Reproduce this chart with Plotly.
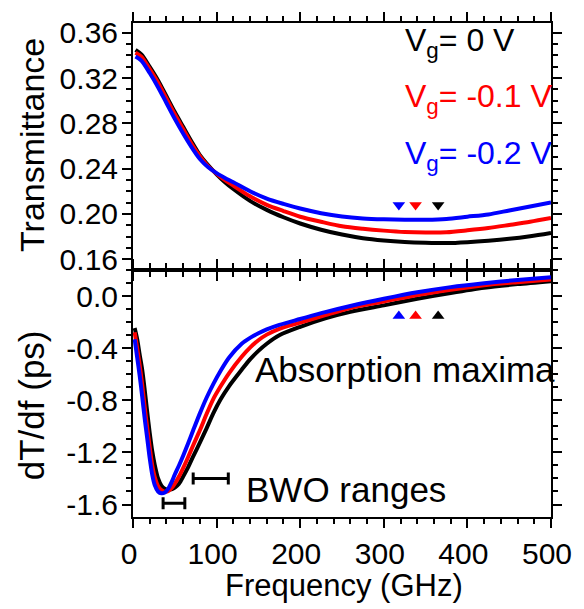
import plotly.graph_objects as go
from plotly.subplots import make_subplots

# ---------------- data ----------------
# Top panel: transmittance vs frequency (GHz)
freq_T = [3, 10, 20, 30, 40, 50, 60, 70, 80, 90, 100, 110, 120, 140, 160, 180, 200,
          225, 250, 275, 300, 325, 350, 375, 400, 425, 450, 475, 500]
T_0V = [0.345, 0.341, 0.330, 0.318, 0.304, 0.290, 0.277, 0.264, 0.252, 0.243, 0.235,
        0.228, 0.222, 0.2115, 0.2035, 0.197, 0.1915, 0.186, 0.1817, 0.1785, 0.1765,
        0.1752, 0.1745, 0.1742, 0.1750, 0.1763, 0.1780, 0.1803, 0.1832]
T_01V = [0.3425, 0.339, 0.328, 0.316, 0.302, 0.288, 0.275, 0.262, 0.251, 0.242, 0.2355,
         0.2298, 0.2250, 0.2155, 0.208, 0.2025, 0.1975, 0.1930, 0.1890, 0.1868, 0.1852,
         0.1840, 0.1836, 0.1838, 0.1855, 0.1875, 0.1902, 0.1930, 0.1963]
T_02V = [0.339, 0.3355, 0.3245, 0.312, 0.298, 0.284, 0.271, 0.259, 0.2485, 0.2412, 0.2360,
         0.2318, 0.2280, 0.2200, 0.2135, 0.2088, 0.2047, 0.2006, 0.1977, 0.1960, 0.1952,
         0.1948, 0.1948, 0.1955, 0.1975, 0.1995, 0.2030, 0.2065, 0.2102]

# Bottom panel: dT/df (ps) vs frequency (GHz)
freq_D = [2, 5, 8, 11, 14, 17, 20, 23, 26, 30, 34, 38, 42, 46, 50, 55, 60, 66, 72, 80,
          88, 96, 105, 115, 130, 140, 150, 160, 175, 200, 230, 260, 300, 340, 380, 420,
          460, 500]
D_0V = [-0.244, -0.33, -0.45, -0.565, -0.72, -0.89, -1.05, -1.19, -1.295, -1.40, -1.455,
        -1.478, -1.486, -1.484, -1.47, -1.44, -1.385, -1.313, -1.23, -1.125, -1.015, -0.90,
        -0.79, -0.69, -0.565, -0.485, -0.42, -0.365, -0.30, -0.235, -0.17, -0.12, -0.07,
        -0.02, 0.025, 0.065, 0.093, 0.116]
D_01V = [-0.277, -0.40, -0.53, -0.68, -0.85, -1.01, -1.16, -1.30, -1.39, -1.46, -1.49,
         -1.501, -1.497, -1.475, -1.44, -1.385, -1.32, -1.235, -1.145, -1.03, -0.905, -0.79,
         -0.69, -0.59, -0.465, -0.395, -0.338, -0.295, -0.25, -0.203, -0.145, -0.09, -0.04,
         0.01, 0.05, 0.085, 0.108, 0.128]
D_02V = [-0.33, -0.47, -0.61, -0.77, -0.94, -1.09, -1.245, -1.37, -1.45, -1.50, -1.514,
         -1.508, -1.48, -1.43, -1.37, -1.30, -1.225, -1.13, -1.03, -0.90, -0.78, -0.675,
         -0.57, -0.47, -0.365, -0.32, -0.285, -0.255, -0.22, -0.175, -0.122, -0.075, -0.02,
         0.03, 0.07, 0.10, 0.125, 0.146]

# absorption maxima (GHz) for 0, -0.1, -0.2 V
abs_max = [365, 338, 318]
abs_mark_T = 0.2078
abs_mark_D = -0.152

# BWO frequency ranges (GHz)
bwo_low = [36, 72]
bwo_high = [62, 114]
bwo_y = [-1.59, -1.40]

# tick labels
top_ticks = [0.16, 0.20, 0.24, 0.28, 0.32, 0.36]
top_ticktext = ["0.16", "0.20", "0.24", "0.28", "0.32", "0.36"]
bot_ticks = [0.0, -0.4, -0.8, -1.2, -1.6]
bot_ticktext = ["0.0", "-0.4", "-0.8", "-1.2", "-1.6"]
x_ticks = [0, 100, 200, 300, 400, 500]

colors = ["#000000", "#ff0000", "#0000ff"]
labels = ["0 V", "-0.1 V", "-0.2 V"]

FONT = "Liberation Sans, Arial, sans-serif"

fig = make_subplots(rows=2, cols=1, vertical_spacing=0)

T_series = [T_0V, T_01V, T_02V]
D_series = [D_0V, D_01V, D_02V]
for i in range(3):
    fig.add_trace(go.Scatter(x=freq_T, y=T_series[i], mode="lines",
                             line=dict(color=colors[i], width=4, shape="spline", smoothing=0.8),
                             showlegend=False), row=1, col=1)
for i in range(3):
    fig.add_trace(go.Scatter(x=freq_D, y=D_series[i], mode="lines",
                             line=dict(color=colors[i], width=4, shape="spline", smoothing=0.8),
                             showlegend=False), row=2, col=1)

# absorption maxima markers
for i in range(3):
    fig.add_trace(go.Scatter(x=[abs_max[i]], y=[abs_mark_T], mode="markers",
                             marker=dict(symbol="triangle-down", size=11, color=colors[i]),
                             showlegend=False), row=1, col=1)
    fig.add_trace(go.Scatter(x=[abs_max[i]], y=[abs_mark_D], mode="markers",
                             marker=dict(symbol="triangle-up", size=11, color=colors[i]),
                             showlegend=False), row=2, col=1)

# BWO ranges as horizontal bars with caps
bwo_c = [(a + b) / 2 for a, b in zip(bwo_low, bwo_high)]
fig.add_trace(go.Scatter(
    x=bwo_c, y=bwo_y, mode="markers",
    marker=dict(size=1, color="rgba(0,0,0,0)"),
    error_x=dict(type="data", symmetric=False,
                 array=[h - c for h, c in zip(bwo_high, bwo_c)],
                 arrayminus=[c - l for c, l in zip(bwo_c, bwo_low)],
                 color="black", thickness=3, width=6),
    showlegend=False), row=2, col=1)

axis_common = dict(showline=True, linecolor="black", linewidth=2, mirror="allticks",
                   ticks="outside", ticklen=9, tickwidth=2, tickcolor="black",
                   showgrid=False, zeroline=False,
                   tickfont=dict(family=FONT, size=30, color="black"))

fig.update_xaxes(range=[0, 500], tickmode="array", tickvals=x_ticks,
                 ticklabeloverflow="allow", ticklabelshift=-4,
                 minor=dict(tickmode="linear", tick0=0, dtick=20, ticklen=5, tickwidth=2,
                            ticks="outside", tickcolor="black"),
                 **axis_common)
fig.update_xaxes(showticklabels=False, row=1, col=1)

fig.update_yaxes(range=[0.1504, 0.3687], tickmode="array", tickvals=top_ticks,
                 ticktext=top_ticktext, ticklabelstandoff=-2,
                 minor=dict(tickmode="linear", tick0=0.16, dtick=0.01, ticklen=5, tickwidth=2,
                            ticks="outside", tickcolor="black"),
                 row=1, col=1, **axis_common)
fig.update_yaxes(range=[-1.696, 0.2015], tickmode="array", tickvals=bot_ticks,
                 ticktext=bot_ticktext, ticklabelstandoff=-2,
                 minor=dict(tickmode="linear", tick0=0, dtick=0.1, ticklen=5, tickwidth=2,
                            ticks="outside", tickcolor="black"),
                 row=2, col=1, **axis_common)

ann = []
# legend-like labels
vg_y = [0.3514, 0.3019, 0.2512]
for i in range(3):
    ann.append(dict(x=323, y=vg_y[i], xref="x", yref="y", xanchor="left", yanchor="middle",
                    text="V<sub>g</sub>= " + labels[i], showarrow=False,
                    font=dict(family=FONT, size=32, color=colors[i])))
ann.append(dict(x=144, y=-0.56, xref="x2", yref="y2", xanchor="left", yanchor="middle",
                text="Absorption maxima", showarrow=False,
                font=dict(family=FONT, size=35, color="black")))
ann.append(dict(x=133, y=-1.485, xref="x2", yref="y2", xanchor="left", yanchor="middle",
                text="BWO ranges", showarrow=False,
                font=dict(family=FONT, size=35, color="black")))
# axis titles
ann.append(dict(x=(29.5 - 133) / 428, y=(517 - 139) / 502, xref="paper", yref="paper",
                xanchor="center", yanchor="middle", textangle=-90, text="Transmittance",
                showarrow=False, font=dict(family=FONT, size=34, color="black")))
ann.append(dict(x=(29 - 133) / 428, y=(517 - 403) / 502, xref="paper", yref="paper",
                xanchor="center", yanchor="middle", textangle=-90, text="dT/df (ps)",
                showarrow=False, font=dict(family=FONT, size=35, color="black")))
ann.append(dict(x=(349 - 133) / 428, y=(517 - 586.4) / 502, xref="paper", yref="paper",
                xanchor="center", yanchor="middle", text="Frequency (GHz)",
                showarrow=False, font=dict(family=FONT, size=31, color="black")))

fig.update_layout(width=584, height=609, margin=dict(l=133, r=23, t=15, b=92),
                  plot_bgcolor="white", paper_bgcolor="white", showlegend=False,
                  annotations=ann, font=dict(family=FONT, color="black"))

fig.write_html("out.html", config={"displayModeBar": False},
               post_script="document.body.style.margin='0';document.body.style.overflow='hidden';")
